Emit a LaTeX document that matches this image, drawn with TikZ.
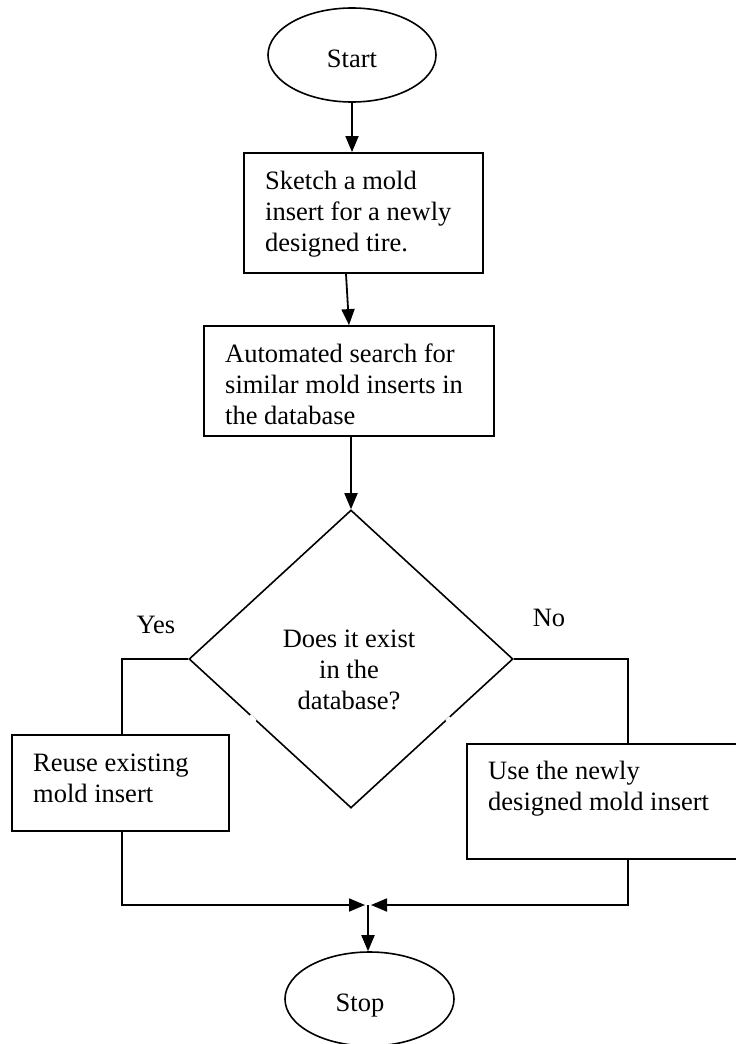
\documentclass[tikz,border=0pt]{standalone}
\usepackage{fontspec}
\setmainfont{Liberation Serif}
\usetikzlibrary{arrows.meta,shapes.geometric,calc}
\begin{document}
\begin{tikzpicture}[x=1pt,y=-1pt,
  font=\fontsize{26.5}{31}\selectfont,
  boxnode/.style={draw, rectangle, line width=1.8pt, inner sep=0pt},
  term/.style={draw, ellipse, line width=1.6pt, inner sep=0pt, minimum width=168pt, minimum height=94pt},
  dec/.style={draw, diamond, line width=1.6pt, inner sep=0pt, minimum width=324pt, minimum height=298pt},
  txt/.style={inner sep=0pt, anchor=base west},
  lbl/.style={inner sep=0pt, anchor=base},
  arr/.style={line width=1.8pt, -{Triangle[length=16pt,width=13pt]}},
  ln/.style={line width=1.6pt}]
\fill[white] (0,0) rectangle (736,1044);
\useasboundingbox (0,0) rectangle (736,1044);

% terminals
\node[term] (start) at (352,55) {};
\node[lbl] (starttxt) at (352,67) {Start};
\node[term, minimum width=169pt] (stop) at (369.5,999) {};
\node[lbl] (stoptxt) at (360,1011) {Stop};

% process boxes
\node[boxnode, minimum width=239pt, minimum height=120pt] (b1) at (363.5,213) {};
\node[txt] (b1txt) at (265,189) {\parbox[t]{215pt}{\raggedright Sketch a mold\\insert for a newly\\designed tire.}};

\node[boxnode, minimum width=290pt, minimum height=110pt] (b2) at (349,381) {};
\node[txt] (b2txt) at (225,362) {\parbox[t]{265pt}{\raggedright Automated search for\\similar mold inserts in\\the database}};

\node[boxnode, minimum width=217pt, minimum height=96pt] (b3) at (120.5,783) {};
\node[txt] (b3txt) at (33,771) {\parbox[t]{190pt}{\raggedright Reuse existing\\mold insert}};

\node[boxnode, minimum width=273pt, minimum height=115pt] (b4) at (603.5,801.5) {};
\node[txt] (b4txt) at (488,779) {\parbox[t]{240pt}{\raggedright Use the newly\\designed mold insert}};

% decision
\node[dec] (dia) at (351,659) {};
\node[lbl] (diatxt) at (349,647) {\parbox[t]{200pt}{\centering Does it exist\\in the\\database?}};
\draw[white, line width=3.2pt] ($(dia.west)!0.378!(dia.south)$) -- ($(dia.west)!0.414!(dia.south)$);
\draw[white, line width=3.2pt] ($(dia.east)!0.39!(dia.south)$) -- ($(dia.east)!0.414!(dia.south)$);

\node[lbl] (yes) at (156,633) {Yes};
\node[lbl] (no) at (549,626) {No};

% connectors
\draw[arr] (start.south) -- (start.south |- b1.north);
\draw[arr] ([xshift=-17.5pt]b1.south) -- (b2.north);
\draw[arr] ([xshift=2pt]b2.south) -- (dia.north);
\draw[ln] (dia.west) -| ([xshift=1.5pt]b3.north);
\draw[ln] (dia.east) -| ([xshift=24.5pt]b4.north);
\coordinate (m) at (368,905);
\draw[arr] ([xshift=1.5pt]b3.south) |- ([xshift=-3pt]m);
\draw[arr] ([xshift=24.5pt]b4.south) |- ([xshift=3pt]m);
\draw[arr] (m) -- (m |- stop.north);
\end{tikzpicture}
\end{document}
